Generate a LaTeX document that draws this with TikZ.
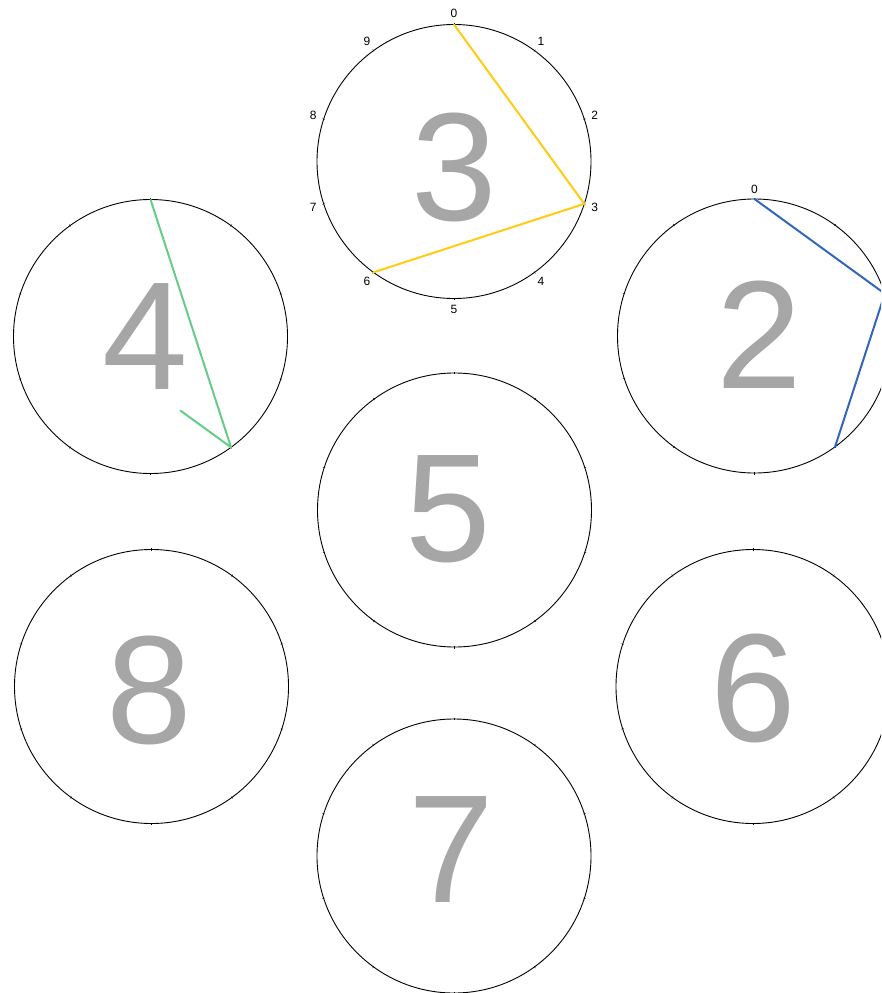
\documentclass[tikz,border=0pt]{standalone}
\usepackage{fontspec}
\setmainfont{Liberation Sans}
\usetikzlibrary{calc}
\definecolor{biggray}{HTML}{A6A6A6}
\definecolor{lineyellow}{HTML}{FFCC11}
\definecolor{lineblue}{HTML}{3366BB}
\definecolor{linegreen}{HTML}{66CC88}
\tikzset{
  dial/.style={circle, draw=black, line width=0.9pt, inner sep=0pt, outer sep=0pt, minimum size=274pt},
  bigdigit/.style={text=biggray, font=\fontsize{154}{154}\selectfont, inner sep=0pt},
  smalllabel/.style={font=\fontsize{12}{12}\selectfont, inner sep=0pt},
  chord/.style={line width=2pt, line cap=round, line join=round},
  tickmark/.style={line width=0.4pt}
}
\begin{document}
\begin{tikzpicture}[x=1pt,y=-1pt]
\useasboundingbox (0,0) rectangle (881,993);
\clip (0,0) rectangle (881,993);
\fill[white] (0,0) rectangle (881,993);
% circles
\node[dial] (c3) at (454,161.5) {};
\node[dial] (c4) at (150.5,336.5) {};
\node[dial] (c2) at (754.5,336) {};
\node[dial] (c5) at (454.5,510) {};
\node[dial] (c8) at (151.5,686.5) {};
\node[dial] (c6) at (753,686.5) {};
\node[dial] (c7) at (454,856) {};
% tick marks (y axis points down, so polar angles are negated)
\foreach \c in {c3,c4,c2,c5,c8,c6,c7}{
  \foreach \k in {0,...,9}{
    \draw[tickmark] ($(\c)+({36*\k-90}:136)$) -- ($(\c)+({36*\k-90}:138.5)$);
  }
}
% big digits
\node[bigdigit] (d3) at (454,167) {3};
\node[bigdigit] (d4) at (145,337) {4};
\node[bigdigit] (d2) at (759.5,334.5) {2};
\node[bigdigit] (d5) at (448,509.5) {5};
\node[bigdigit] (d8) at (149.5,690) {8};
\node[bigdigit] (d6) at (753,688.5) {6};
\node[bigdigit] (d7) at (451.5,850) {7};
% labels on circle 3
\foreach \k in {0,...,9}{
  \node[smalllabel] (l3-\k) at ($(c3)+({36*\k-90}:148)$) {\k};
}
% label on circle 2
\node[smalllabel] (l2-0) at ($(c2)+(-90:147)$) {0};
% chords
\draw[chord, lineyellow] (c3.90) -- (c3.-18) -- (c3.-126);
\draw[chord, lineblue] (c2.90) -- (c2.18) -- (c2.-54);
\coordinate (g4end) at ($(c4.-54)!0.24!(c4.-198)$);
\draw[chord, linegreen] (c4.90) -- (c4.-54) -- (g4end);
\end{tikzpicture}
\end{document}
